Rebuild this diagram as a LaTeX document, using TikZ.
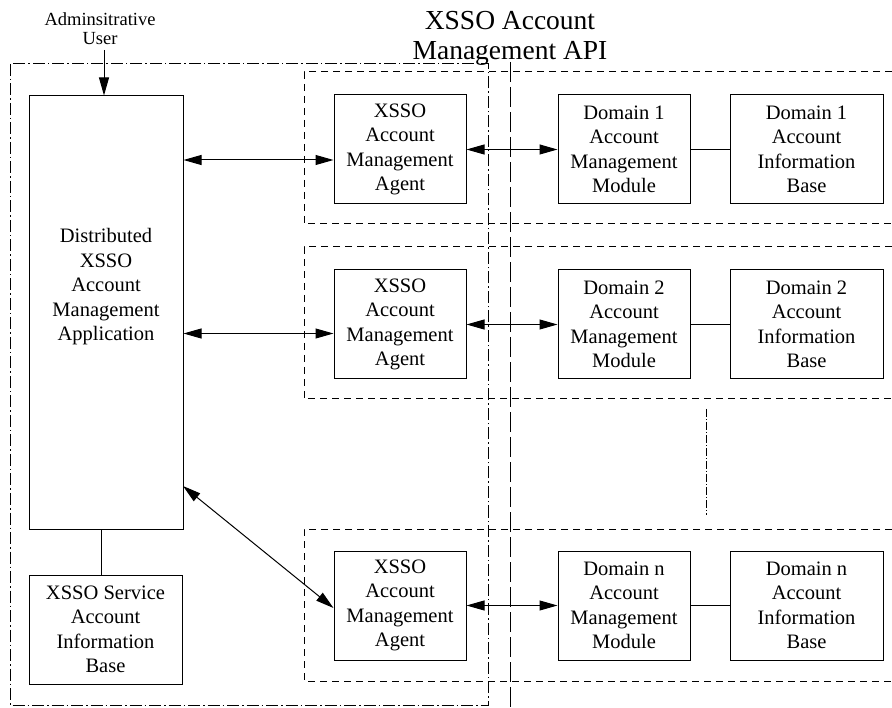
\documentclass[tikz,border=0pt]{standalone}
\usepackage{fontspec}
\setmainfont{Liberation Serif}
\usetikzlibrary{arrows.meta,calc}
\begin{document}
\begin{tikzpicture}[x=1pt,y=-1pt,
  box/.style={draw,line width=1pt,inner sep=0pt,align=center,font=\fontsize{20.5}{24.5}\selectfont},
  dbl/.style={line width=1pt,{Triangle[length=18pt,width=10pt]}-{Triangle[length=18pt,width=10pt]}},
  sgl/.style={line width=1pt,-{Triangle[length=18pt,width=10pt]}},
  plain/.style={line width=1pt},
  rowbox/.style={line width=1pt,dash pattern=on 7pt off 5pt},
  outer/.style={line width=1pt,dash pattern=on 12pt off 3pt on 1.5pt off 3pt},
  api/.style={line width=1pt,dash pattern=on 20pt off 5pt},
  dots/.style={line width=1pt,dash pattern=on 8pt off 2pt on 1pt off 2pt}]
\useasboundingbox (0,0) rectangle (892,708);

% title and user
\node[align=center,font=\fontsize{27.5}{30}\selectfont] (title) at (510,38) {XSSO Account\\Management API};
\node[align=center,font=\fontsize{18.5}{19}\selectfont] (user) at (100,29) {Adminsitrative\\User};

% frames
\draw[outer] (10,64) rectangle (488,705);
\draw[api] (510,62) -- (510,708);
\draw[rowbox] (892,72) -- (304,72) -- (304,224) -- (892,224);
\draw[rowbox] (892,247) -- (304,247) -- (304,399) -- (892,399);
\draw[rowbox] (892,529) -- (304,529) -- (304,681) -- (892,681);
\draw[dots] (706,409) -- (706,515);

% left column
\node[box,minimum width=154pt,minimum height=433pt] (big) at (106,312.5) {};
\node[align=center,font=\fontsize{20.5}{24.5}\selectfont] (bigtxt) at (106,287) {Distributed\\XSSO\\Account\\Management\\Application};
\node[box,minimum width=153pt,minimum height=109pt] (svc) at (105.5,629.5) {XSSO Service\\Account\\Information\\Base};

% rows
\foreach \r/\y/\d in {1/149.5/1, 2/324.5/2, 3/605.5/n}{
  \node[box,minimum width=132pt,minimum height=109pt] (a\r) at (400,\y) {XSSO\\Account\\Management\\Agent};
  \node[box,minimum width=132pt,minimum height=109pt] (m\r) at (624,\y) {Domain \d\\Account\\Management\\Module};
  \node[box,minimum width=153pt,minimum height=109pt] (i\r) at (806.5,\y) {Domain \d\\Account\\Information\\Base};
}

% connectors
\coordinate (u0) at (104,50);
\draw[sgl] (u0) -- (u0 |- big.north);
\draw[plain] (big.south -| 101,0) -- (svc.north -| 101,0);

\coordinate (p1) at ($(a1.west)+(0,10.5)$);
\coordinate (p2) at ($(a2.west)+(0,9)$);
\draw[dbl] (big.east |- p1) -- (p1);
\draw[dbl] (big.east |- p2) -- (p2);
\coordinate (d1) at (183,486);
\coordinate (d2) at ($(a3.west)+(0,2.5)$);
\draw[dbl] (d1) -- (d2);

\foreach \r in {1,2,3}{
  \draw[dbl] (a\r.east) -- (m\r.west);
  \draw[plain] (m\r.east) -- (i\r.west);
}
\end{tikzpicture}
\end{document}
